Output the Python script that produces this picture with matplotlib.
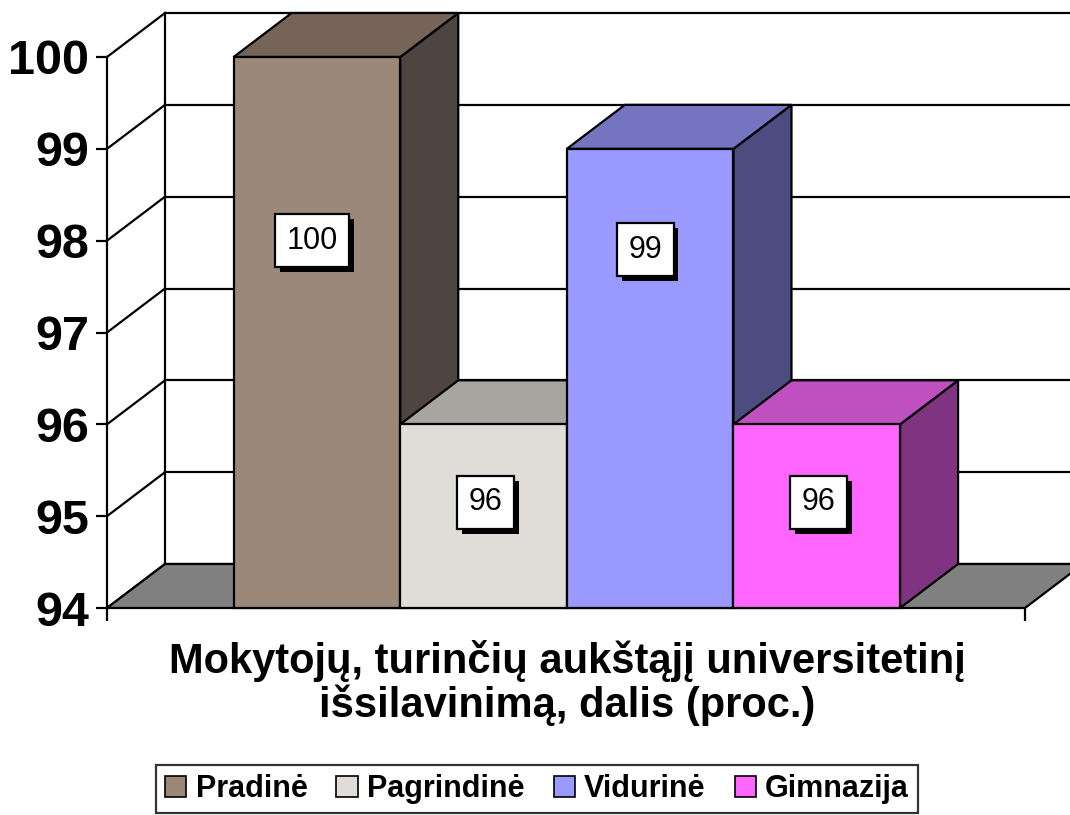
import matplotlib
matplotlib.use("Agg")
import matplotlib.pyplot as plt
from matplotlib.patches import Polygon, Patch
import matplotlib.patheffects as pe

# data
categories = ['Pradinė', 'Pagrindinė', 'Vidurinė', 'Gimnazija']
values = [100, 96, 99, 96]
value_labels = ['100', '96', '99', '96']
yticks = [94, 95, 96, 97, 98, 99, 100]

front_colors = ['#9C8878', '#E0DCD8', '#9999FF', '#FF66FF']
top_colors = ['#766458', '#A8A4A0', '#7474C0', '#C050C0']
side_colors = ['#4E4440', '#707070', '#4C4C80', '#803380']

title = 'Mokytojų, turinčių aukštąjį universitetinį\nišsilavinimą, dalis (proc.)'

plt.rcParams['font.family'] = ['Liberation Sans', 'DejaVu Sans']

fig = plt.figure(figsize=(10.7, 8.15), dpi=100)
W, H = 1070, 815
ax = fig.add_axes([107 / W, (H - 608) / H, (1025 - 107) / W, (608 - 57) / H])

ymin, ymax = 94, 100
xl, xr = -1.26, 4.25
# depth offset of the 3d box, in data units
dx = 58 / 166.5
dy = 44 / ((608 - 57) / 6)

ax.set_xlim(xl, xr)
ax.set_ylim(ymin, ymax)
for s in ax.spines.values():
    s.set_visible(False)

lw = 1.6

# back wall and its gridlines
ax.add_patch(Polygon([(xl + dx, ymin + dy), (xr + dx, ymin + dy), (xr + dx, ymax + dy), (xl + dx, ymax + dy)],
                     closed=True, facecolor='white', edgecolor='none', clip_on=False, zorder=1))
for t in yticks:
    ax.plot([xl + dx, xr + dx + 1], [t + dy, t + dy], color='black', lw=lw, clip_on=False, zorder=2)
    ax.plot([xl, xl + dx], [t, t + dy], color='black', lw=lw, clip_on=False, zorder=2)
ax.plot([xl + dx, xl + dx], [ymin + dy, ymax + dy], color='black', lw=lw, clip_on=False, zorder=2)
ax.plot([xl, xl], [ymin, ymax], color='black', lw=lw, clip_on=False, zorder=2)

# floor
ax.add_patch(Polygon([(xl, ymin), (xr, ymin), (xr + dx, ymin + dy), (xl + dx, ymin + dy)],
                     closed=True, facecolor='#808080', edgecolor='black', lw=lw, clip_on=False, zorder=3))

# bars: side, top, then front, left to right
for i, v in enumerate(values):
    x0, x1 = i - 0.5, i + 0.5
    ax.add_patch(Polygon([(x1, ymin), (x1 + dx, ymin + dy), (x1 + dx, v + dy), (x1, v)],
                         closed=True, facecolor=side_colors[i], edgecolor='black', lw=lw,
                         clip_on=False, zorder=4 + i))
    ax.add_patch(Polygon([(x0, v), (x1, v), (x1 + dx, v + dy), (x0 + dx, v + dy)],
                         closed=True, facecolor=top_colors[i], edgecolor='black', lw=lw,
                         clip_on=False, zorder=4 + i))
    ax.bar(i, v - ymin, bottom=ymin, width=1.0, color=front_colors[i], edgecolor='black',
           lw=lw, zorder=4 + i, clip_on=False)

# value labels in white boxes with a black drop shadow
label_y = [98.0, 95.15, 97.9, 95.15]
label_x = [-0.03, 1.01, 1.97, 3.01]
for i, txt in enumerate(value_labels):
    t = ax.text(label_x[i], label_y[i], txt, ha='center', va='center', fontsize=22, color='black',
                bbox=dict(boxstyle='square,pad=0.38', facecolor='white', edgecolor='black', lw=lw),
                zorder=20)
    t.get_bbox_patch().set_path_effects([
        pe.SimplePatchShadow(offset=(3.5, -3.5), shadow_rgbFace='black', alpha=1.0),
        pe.Normal()])

# axes ticks
ax.set_yticks(yticks)
ax.set_yticklabels([str(t) for t in yticks], fontsize=35, fontweight='bold')
ax.tick_params(axis='y', direction='out', length=8, width=lw, pad=5)
ax.set_xticks([xl, xr])
ax.set_xticklabels(['', ''])
ax.tick_params(axis='x', direction='out', length=9, width=lw)

fig.text(567 / W, 1 - 683 / H, title, ha='center', va='center', fontsize=30,
         fontweight='bold', linespacing=1.05)

handles = [Patch(facecolor=c, edgecolor='black', lw=1.2) for c in front_colors]
leg = fig.legend(handles, categories, loc='center', bbox_to_anchor=(537 / W, 1 - 789 / H),
                 ncol=4, frameon=True, fancybox=False, handlelength=0.7, handleheight=0.7,
                 handletextpad=0.3, columnspacing=0.95, borderpad=0.3,
                 prop=dict(weight='bold', size=22))
leg.get_frame().set_edgecolor('black')
leg.get_frame().set_linewidth(lw)

fig.savefig('out.png', dpi=100)
